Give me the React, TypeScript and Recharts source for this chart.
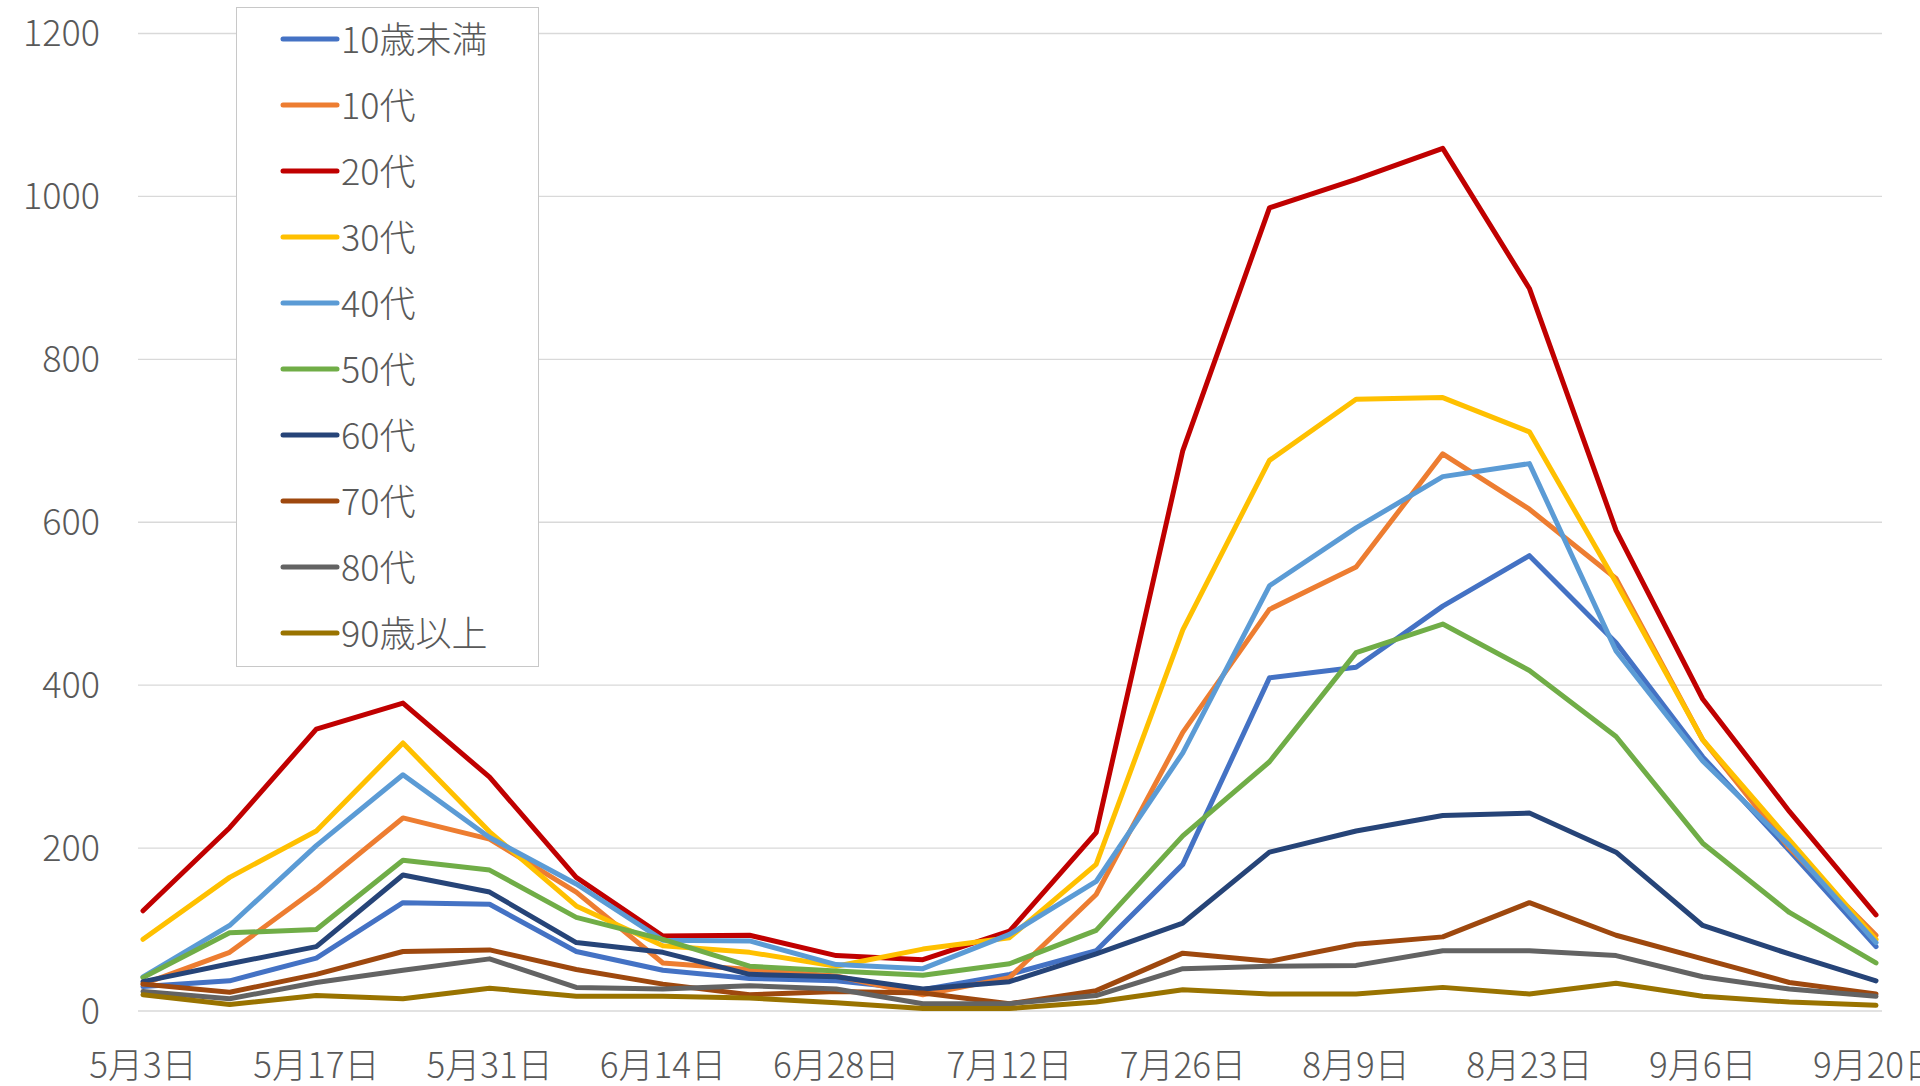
import React from 'react';
import { LineChart, Line, XAxis, YAxis, CartesianGrid, Legend } from 'recharts';

// weekly dates (every other one is labelled on the axis)
const dates = [
  '5月3日', '5月10日', '5月17日', '5月24日', '5月31日', '6月7日', '6月14日',
  '6月21日', '6月28日', '7月5日', '7月12日', '7月19日', '7月26日', '8月2日',
  '8月9日', '8月16日', '8月23日', '8月30日', '9月6日', '9月13日', '9月20日',
];

const under10 = [30, 37, 65, 133, 131, 73, 50, 40, 37, 26, 45, 74, 180, 409, 422, 497, 559, 452, 312, 197, 79];
const teens = [33, 72, 150, 237, 211, 146, 59, 51, 43, 20, 41, 143, 342, 493, 545, 684, 616, 531, 333, 200, 93];
const twenties = [123, 225, 346, 378, 287, 164, 92, 93, 68, 63, 98, 219, 688, 986, 1021, 1059, 887, 590, 383, 245, 118];
const thirties = [88, 164, 221, 329, 220, 129, 80, 72, 55, 76, 90, 180, 468, 676, 751, 753, 711, 526, 333, 210, 88];
const forties = [42, 105, 203, 290, 213, 156, 87, 86, 57, 52, 94, 159, 317, 522, 593, 656, 672, 442, 307, 203, 84];
const fifties = [41, 96, 100, 185, 173, 115, 88, 55, 49, 44, 58, 99, 215, 306, 440, 475, 418, 337, 206, 121, 59];
const sixties = [36, 58, 79, 167, 146, 84, 72, 45, 42, 27, 36, 70, 108, 195, 221, 240, 243, 195, 105, 70, 37];
const seventies = [33, 23, 45, 73, 75, 51, 33, 20, 24, 22, 9, 25, 71, 61, 82, 91, 133, 93, 64, 35, 21];
const eighties = [24, 15, 35, 50, 64, 29, 27, 31, 27, 9, 9, 19, 52, 55, 56, 74, 74, 68, 42, 27, 18];
const over90 = [20, 8, 19, 15, 28, 18, 18, 16, 10, 3, 3, 11, 26, 21, 21, 29, 21, 34, 18, 11, 7];

const yTicks = [0, 200, 400, 600, 800, 1000, 1200];

const series = [
  { name: '10歳未満', values: under10, color: '#4472C4' },
  { name: '10代', values: teens, color: '#ED7D31' },
  { name: '20代', values: twenties, color: '#C00000' },
  { name: '30代', values: thirties, color: '#FFC000' },
  { name: '40代', values: forties, color: '#5B9BD5' },
  { name: '50代', values: fifties, color: '#70AD47' },
  { name: '60代', values: sixties, color: '#264478' },
  { name: '70代', values: seventies, color: '#9E480E' },
  { name: '80代', values: eighties, color: '#636363' },
  { name: '90歳以上', values: over90, color: '#997300' },
];

const data = dates.map((d, i) => {
  const row: Record<string, string | number> = { date: d };
  series.forEach((s) => { row[s.name] = s.values[i]; });
  return row;
});

const FONT = '"Noto Sans CJK JP", "Noto Sans", sans-serif';
const TEXT = '#595959';

const LegendBox = () => (
  <div style={{ position: 'relative', width: 303, height: 660, boxSizing: 'border-box', border: '1.5px solid #c8c8c8', background: '#fff' }}>
    {series.map((s, i) => (
      <div key={s.name} style={{ position: 'absolute', left: 0, top: 29 + i * 66 - 25, height: 50 }}>
        <svg width={150} height={50} style={{ position: 'absolute', left: 0, top: 0 }}>
          <line x1={46} y1={27} x2={100} y2={27} stroke={s.color} strokeWidth={5} strokeLinecap="round" />
        </svg>
        <span style={{ position: 'absolute', left: 104, top: 0, lineHeight: '50px', fontSize: 36, fontWeight: 300, fontFamily: FONT, color: TEXT, whiteSpace: 'nowrap' }}>
          {s.name}
        </span>
      </div>
    ))}
  </div>
);

export default function App() {
  return (
    <div style={{ position: 'absolute', left: 0, top: 0, width: 1920, height: 1086, background: '#fff', overflow: 'hidden' }}>
      <LineChart width={1920} height={1086} data={data} margin={{ top: 33.5, right: 38, bottom: 0, left: 0 }}>
        <CartesianGrid vertical={false} stroke="#d9d9d9" strokeWidth={1.3} />
        <XAxis
          dataKey="date"
          interval={1}
          axisLine={false}
          tickLine={false}
          tickSize={0}
          tickMargin={42}
          height={75}
          padding={{ left: 5, right: 6 }}
          tick={{ fill: TEXT, fontSize: 35, fontWeight: 300, fontFamily: FONT }}
        />
        <YAxis
          domain={[0, 1200]}
          ticks={yTicks}
          axisLine={false}
          tickLine={false}
          tickSize={0}
          tickMargin={38}
          width={138}
          tick={{ fill: TEXT, fontSize: 36, fontWeight: 300, fontFamily: FONT }}
        />
        <Legend
          layout="vertical"
          align="center"
          verticalAlign="middle"
          wrapperStyle={{ position: 'absolute', left: 236, top: 7, width: 303, height: 660 }}
          content={() => <LegendBox />}
        />
        {series.map((s) => (
          <Line
            key={s.name}
            type="linear"
            dataKey={s.name}
            stroke={s.color}
            strokeWidth={5}
            strokeLinejoin="round"
            strokeLinecap="round"
            dot={false}
            activeDot={false}
            isAnimationActive={false}
          />
        ))}
      </LineChart>
    </div>
  );
}
